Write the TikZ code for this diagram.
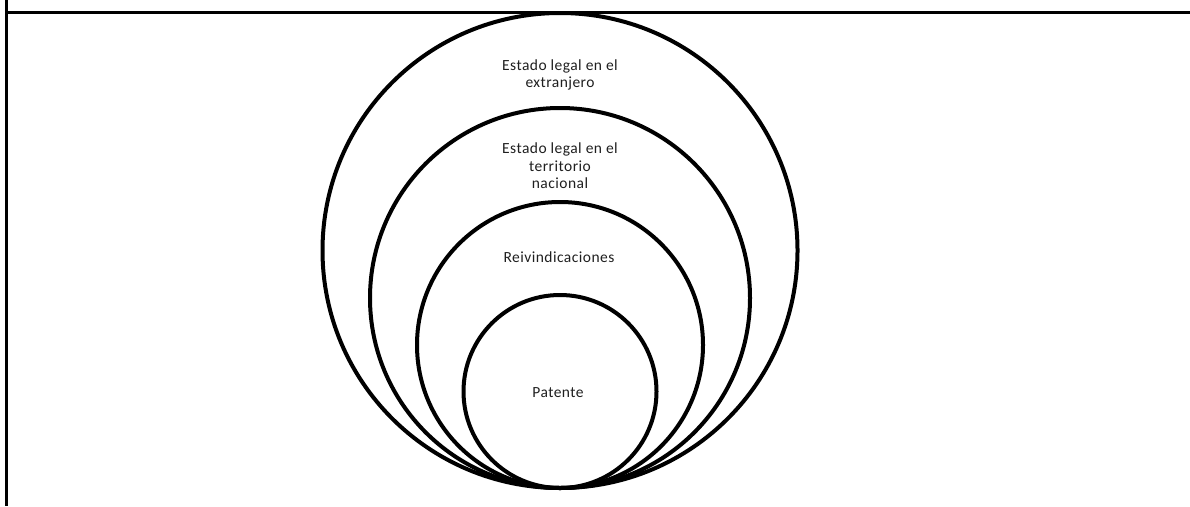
\documentclass[tikz,border=0pt]{standalone}
\usepackage{fontspec}
\setmainfont{Carlito}
\newfontfamily\lblfont[LetterSpace=3]{Carlito}
\begin{document}
\begin{tikzpicture}[x=1pt,y=-1pt,
  ring/.style={circle,draw,line width=4pt,inner sep=0pt},
  lbl/.style={align=center,inner sep=0pt,text=black!88,font=\lblfont\fontsize{15.5}{17.5}\selectfont},
  frameline/.style={line width=3pt}]
\useasboundingbox (0,0) rectangle (1190,506);
\coordinate (ftop) at (6,0);
\coordinate (fbot) at (6,506);
\coordinate (fleft) at (6,12);
\coordinate (fright) at (1190,12);
\draw[frameline] (ftop) -- (fbot);
\draw[frameline] (fleft) -- (fright);
\node[ring,minimum size=475pt] (c1) at (560,250.5) {};
\node[ring,minimum size=380pt] (c2) at (560,298) {};
\node[ring,minimum size=286pt] (c3) at (560,345) {};
\node[ring,minimum size=193pt] (c4) at (560,391.5) {};
\node[lbl] (t1) at (560,75) {Estado legal en el\\extranjero};
\node[lbl] (t2) at (560,166) {Estado legal en el\\territorio\\nacional};
\node[lbl] (t3) at (559,257) {Reivindicaciones};
\node[lbl] (t4) at (558,393) {Patente};
\end{tikzpicture}
\end{document}
